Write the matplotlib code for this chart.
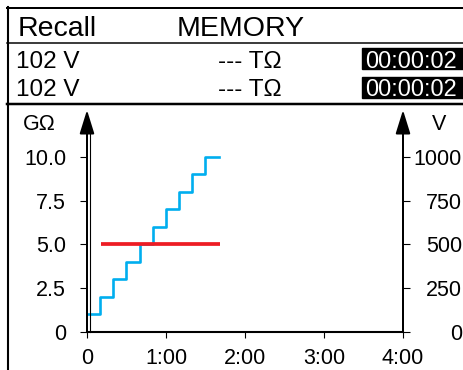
import matplotlib
matplotlib.use("Agg")
import matplotlib.pyplot as plt
from matplotlib.lines import Line2D
from matplotlib.patches import Rectangle
from matplotlib import transforms

plt.rcParams['font.family'] = ['Liberation Sans', 'DejaVu Sans']

# readings: resistance steps (GOhm) and test voltage (V) vs time (s)
step_times = [0, 10, 20, 30, 40, 50, 60, 70, 80, 90, 100]
resistance = [1, 2, 3, 4, 5, 6, 7, 8, 9, 10, 10]
volt_times = [11, 101]
voltage = [500, 500]

x_ticks = [0, 60, 120, 180, 240]
x_labels = ["0", "1:00", "2:00", "3:00", "4:00"]
r_ticks = [0, 2.5, 5.0, 7.5, 10.0]
r_labels = ["0", "2.5", "5.0", "7.5", "10.0"]
v_ticks = [0, 250, 500, 750, 1000]
v_labels = ["0", "250", "500", "750", "1000"]

header = ["Recall", "MEMORY"]
rows = [("102 V", "--- T\u03a9", "00:00:02"), ("102 V", "--- T\u03a9", "00:00:02")]

W, H = 464, 370
fig = plt.figure(figsize=(W / 100, H / 100), dpi=100)

def fx(x):
    return x / W

def fy(y):
    return 1 - y / H

def hline(y, x0, x1, lw):
    fig.add_artist(Line2D([fx(x0), fx(x1)], [fy(y), fy(y)], color='black',
                          lw=lw * 0.72, transform=fig.transFigure))

# screen frame
hline(8, 7, W, 2)
hline(43, 7, W, 1.5)
hline(104, 7, W, 2.5)
fig.add_artist(Line2D([fx(8), fx(8)], [fy(7), 0], color='black', lw=1.5,
                      transform=fig.transFigure))

fig.text(fx(18), fy(36.5), header[0], fontsize=20.5, va='baseline')
fig.text(fx(177), fy(36.5), header[1], fontsize=20.5, va='baseline')

for i, (a, b, c) in enumerate(rows):
    base = 67.5 + i * 29
    fig.text(fx(16), fy(base), a, fontsize=17.5, va='baseline')
    fig.text(fx(218), fy(base), b, fontsize=17.5, va='baseline')
    fig.add_artist(Rectangle((fx(362), fy(base + 1.5)), fx(W - 362), 21.5 / H,
                             color='black', transform=fig.transFigure))
    fig.text(fx(365), fy(base), c, fontsize=17, va='baseline', color='white')

# plot area
y_top = (332 - 110) / 17.53
ax = fig.add_axes([fx(87), fy(332), fx(403 - 87), (332 - 110) / H])
ax.set_xlim(0, 240)
ax.set_ylim(0, y_top)
ax2 = ax.twinx()
ax2.set_ylim(0, y_top * 100)

ax.step(step_times, resistance, where='post', color='#00AEEF', lw=1.9)
ax2.plot(volt_times, voltage, color='#ED1C24', lw=2.7, solid_capstyle='butt')

for a in (ax, ax2):
    for s in a.spines.values():
        s.set_visible(False)
ax.spines['bottom'].set_visible(True)
ax.spines['bottom'].set_linewidth(1.5)

ax.set_xticks(x_ticks, x_labels)
ax.set_yticks(r_ticks, r_labels)
ax2.set_yticks(v_ticks, v_labels)
ax.tick_params(axis='x', length=4.5, width=0.8, pad=7, labelsize=15.5)
ax.tick_params(axis='y', length=5, width=0.8, pad=10, labelsize=15.5)
ax2.tick_params(axis='y', length=5, width=0.8, pad=37.5, labelsize=15.5)
for lab in ax2.get_yticklabels():
    lab.set_ha('right')

# axis lines with arrows
arrow = dict(arrowstyle='-|>,head_length=1.45,head_width=0.45', lw=1.44,
             color='black', mutation_scale=10, shrinkA=0, shrinkB=0)
ax.annotate('', xy=(0, 1), xycoords='axes fraction', xytext=(0, 0),
            arrowprops=arrow, annotation_clip=False)
ax.annotate('', xy=(1, 1), xycoords='axes fraction', xytext=(1, 0),
            arrowprops=arrow, annotation_clip=False)
off = transforms.offset_copy(ax.transAxes, fig=fig, x=3.5, y=0, units='dots')
ax.plot([0, 0], [0, 0.9], color='black', lw=0.8, transform=off, clip_on=False)

fig.text(fx(23), fy(130), "G\u03a9", fontsize=15.5, va='baseline')
fig.text(fx(432), fy(130), "V", fontsize=15.5, va='baseline')

fig.savefig("out.png", dpi=100)
